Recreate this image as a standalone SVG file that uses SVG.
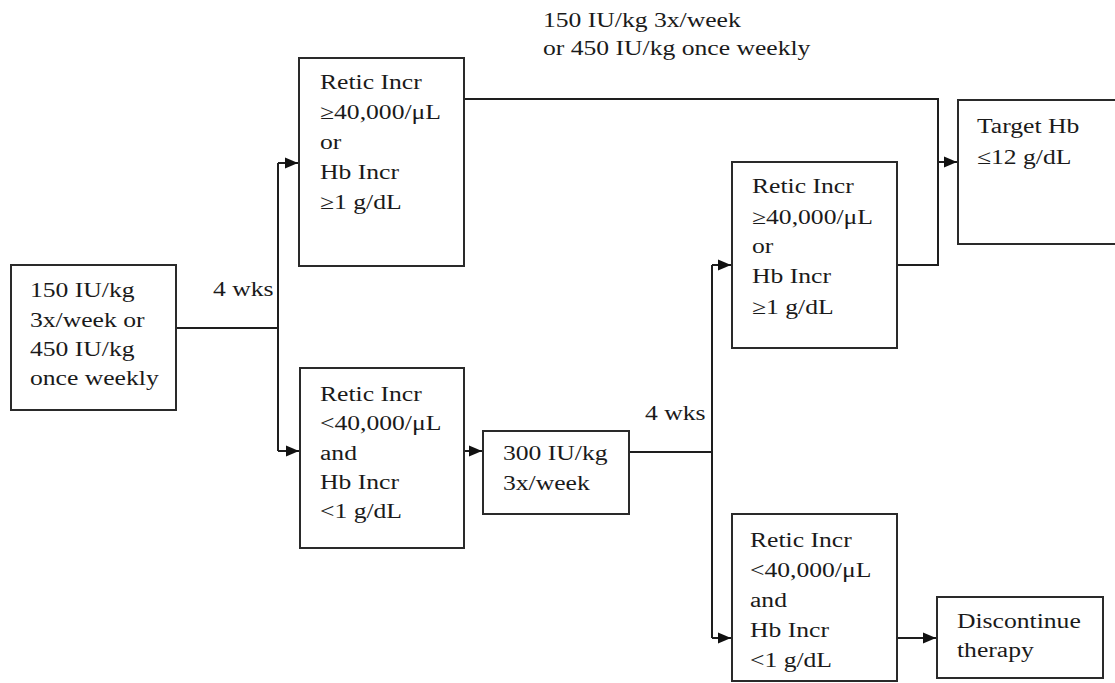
<svg xmlns="http://www.w3.org/2000/svg" width="1115" height="683" viewBox="0 0 1115 683">
<style>
.box{fill:#fff;stroke:#2a2a2a;stroke-width:2}
.t{font-family:"Liberation Serif","Times New Roman",serif;font-size:20.5px;fill:#1a1a1a}
.ln{fill:none;stroke:#1e1e1e;stroke-width:2}
</style>
<defs>
<marker id="ah" markerUnits="userSpaceOnUse" markerWidth="14" markerHeight="12" refX="13" refY="6" orient="auto">
<path d="M0,0.5 L13,6 L0,11.5 z" fill="#111"/>
</marker>
</defs>
<rect width="1115" height="683" fill="#fff"/>

<g id="connectors">
<path class="ln" d="M176,328 H278"/>
<path class="ln" d="M278,163 V451"/>
<path class="ln" d="M278,163 H298" marker-end="url(#ah)"/>
<path class="ln" d="M278,451 H299" marker-end="url(#ah)"/>
<path class="ln" d="M464,451 H482" marker-end="url(#ah)"/>
<path class="ln" d="M629,452 H712"/>
<path class="ln" d="M712,265 V638"/>
<path class="ln" d="M712,265 H731" marker-end="url(#ah)"/>
<path class="ln" d="M712,638 H731" marker-end="url(#ah)"/>
<path class="ln" d="M464,99 H938 V265 H897"/>
<path class="ln" d="M938,162 H957" marker-end="url(#ah)"/>
<path class="ln" d="M897,638 H936" marker-end="url(#ah)"/>
</g>

<g id="label-top">
<text class="t" transform="translate(543,0) scale(1.25,1)"><tspan x="0" y="27">150 IU/kg 3x/week</tspan><tspan x="0" y="55">or 450 IU/kg once weekly</tspan></text>
</g>
<g id="label-4wks-1">
<text class="t" transform="translate(213,0) scale(1.25,1)"><tspan x="0" y="296">4 wks</tspan></text>
</g>
<g id="label-4wks-2">
<text class="t" transform="translate(645,0) scale(1.25,1)"><tspan x="0" y="420">4 wks</tspan></text>
</g>

<g id="node-start">
<rect class="box" x="11" y="265" width="165" height="145"/>
<text class="t" transform="translate(30,0) scale(1.25,1)"><tspan x="0" y="297">150 IU/kg</tspan><tspan x="0" y="327">3x/week or</tspan><tspan x="0" y="356">450 IU/kg</tspan><tspan x="0" y="385">once weekly</tspan></text>
</g>

<g id="node-resp1">
<rect class="box" x="299" y="58" width="165" height="208"/>
<text class="t" transform="translate(320,0) scale(1.25,1)"><tspan x="0" y="89">Retic Incr</tspan><tspan x="0" y="119">≥40,000/μL</tspan><tspan x="0" y="149">or</tspan><tspan x="0" y="179">Hb Incr</tspan><tspan x="0" y="209">≥1 g/dL</tspan></text>
</g>

<g id="node-noresp1">
<rect class="box" x="300" y="368" width="164" height="180"/>
<text class="t" transform="translate(320,0) scale(1.25,1)"><tspan x="0" y="401">Retic Incr</tspan><tspan x="0" y="430">&lt;40,000/μL</tspan><tspan x="0" y="460">and</tspan><tspan x="0" y="489">Hb Incr</tspan><tspan x="0" y="518">&lt;1 g/dL</tspan></text>
</g>

<g id="node-300">
<rect class="box" x="483" y="431" width="146" height="83"/>
<text class="t" transform="translate(503,0) scale(1.25,1)"><tspan x="0" y="460">300 IU/kg</tspan><tspan x="0" y="490">3x/week</tspan></text>
</g>

<g id="node-resp2">
<rect class="box" x="732" y="162" width="165" height="186"/>
<text class="t" transform="translate(752,0) scale(1.25,1)"><tspan x="0" y="193">Retic Incr</tspan><tspan x="0" y="224">≥40,000/μL</tspan><tspan x="0" y="253">or</tspan><tspan x="0" y="283">Hb Incr</tspan><tspan x="0" y="314">≥1 g/dL</tspan></text>
</g>

<g id="node-target">
<rect class="box" x="958" y="100" width="180" height="144"/>
<text class="t" transform="translate(977,0) scale(1.25,1)"><tspan x="0" y="133">Target Hb</tspan><tspan x="0" y="164">≤12 g/dL</tspan></text>
</g>

<g id="node-noresp2">
<rect class="box" x="732" y="514" width="165" height="167"/>
<text class="t" transform="translate(750,0) scale(1.25,1)"><tspan x="0" y="547">Retic Incr</tspan><tspan x="0" y="577">&lt;40,000/μL</tspan><tspan x="0" y="607">and</tspan><tspan x="0" y="637">Hb Incr</tspan><tspan x="0" y="667">&lt;1 g/dL</tspan></text>
</g>

<g id="node-discontinue">
<rect class="box" x="937" y="597" width="166" height="81"/>
<text class="t" transform="translate(957,0) scale(1.25,1)"><tspan x="0" y="628">Discontinue</tspan><tspan x="0" y="657">therapy</tspan></text>
</g>
</svg>
